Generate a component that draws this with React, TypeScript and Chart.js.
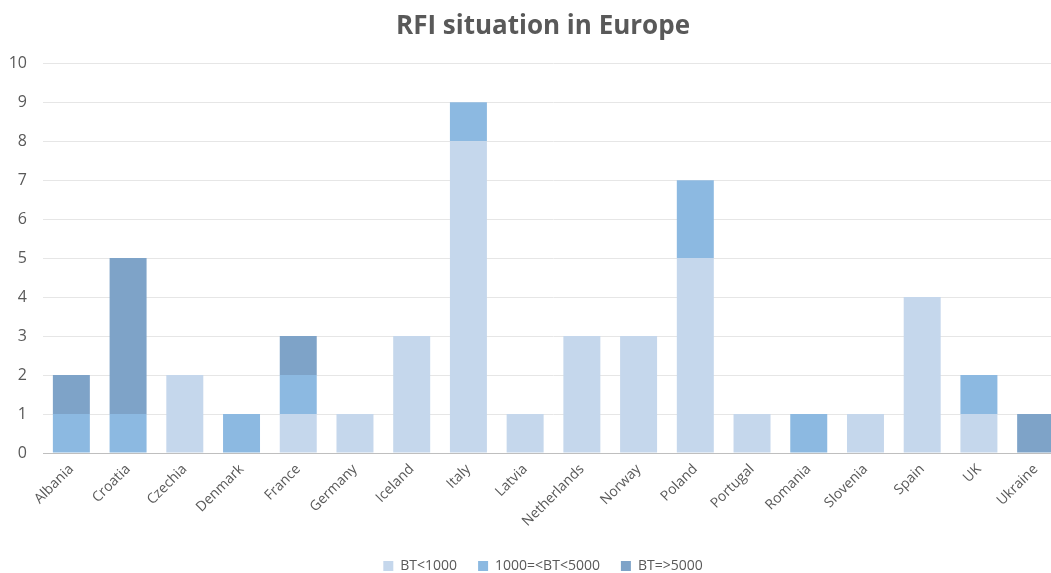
import React, { useEffect, useRef } from "react";
import { Chart, registerables } from "chart.js";

Chart.register(...registerables);

const countries = [
  "Albania", "Croatia", "Czechia", "Denmark", "France", "Germany", "Iceland", "Italy", "Latvia",
  "Netherlands", "Norway", "Poland", "Portugal", "Romania", "Slovenia", "Spain", "UK", "Ukraine",
];
const btUnder1000 = [0, 0, 2, 0, 1, 1, 3, 8, 1, 3, 3, 5, 1, 0, 1, 4, 1, 0];
const bt1000to5000 = [1, 1, 0, 1, 1, 0, 0, 1, 0, 0, 0, 2, 0, 1, 0, 0, 1, 0];
const btOver5000 = [1, 4, 0, 0, 1, 0, 0, 0, 0, 0, 0, 0, 0, 0, 0, 0, 0, 1];
const seriesNames = ["BT<1000", "1000=<BT<5000", "BT=>5000"];
const yTicks = [0, 1, 2, 3, 4, 5, 6, 7, 8, 9, 10];

const FONT = "'Open Sans', 'Noto Sans', sans-serif";
const TEXT = "#595959";

export default function App() {
  const ref = useRef<HTMLCanvasElement | null>(null);

  useEffect(() => {
    if (!ref.current) return;
    const colors = ["#c5d7ec", "#8cb9e1", "#7ea3c8"];
    const values = [btUnder1000, bt1000to5000, btOver5000];
    const chart = new Chart(ref.current, {
      type: "bar",
      data: {
        labels: countries,
        datasets: values.map((v, i) => ({
          label: seriesNames[i],
          data: v,
          backgroundColor: colors[i],
          borderWidth: 0,
          categoryPercentage: 1,
          barPercentage: 0.652,
        })),
      },
      options: {
        responsive: false,
        animation: false,
        layout: { padding: { left: 22, right: 22, top: 11, bottom: 0 } },
        plugins: {
          title: {
            display: true,
            text: "RFI situation in Europe",
            color: TEXT,
            font: { family: FONT, size: 26, weight: "bold" },
            padding: { top: 0, bottom: 21 },
          },
          legend: {
            position: "bottom",
            labels: {
              color: TEXT,
              font: { family: FONT, size: 14 },
              boxWidth: 10,
              boxHeight: 10,
              padding: 21,
            },
          },
          tooltip: { enabled: false },
        },
        scales: {
          x: {
            stacked: true,
            grid: { display: false, drawTicks: false },
            border: { color: "#bfbfbf", width: 1 },
            ticks: {
              color: TEXT,
              font: { family: FONT, size: 14 },
              minRotation: 45,
              maxRotation: 45,
              padding: 8,
              autoSkip: false,
            },
            afterFit: (axis: any) => {
              axis.height = 85;
              axis.paddingLeft = 0;
              axis.paddingRight = 0;
            },
          },
          y: {
            stacked: true,
            min: yTicks[0],
            max: yTicks[yTicks.length - 1],
            afterBuildTicks: (axis: any) => {
              axis.ticks = yTicks.map((v) => ({ value: v }));
            },
            afterFit: (axis: any) => {
              // narrow axis box; tick labels are allowed to spill into the left padding
              axis.width = 21;
              axis._computeLabelArea = () => undefined;
            },
            grid: { color: "#e6e6e6", drawTicks: false },
            border: { display: false },
            ticks: {
              color: TEXT,
              font: { family: FONT, size: 16 },
              padding: 16,
            },
          },
        },
      },
    });
    return () => chart.destroy();
  }, []);

  return (
    <div style={{ position: "fixed", left: 0, top: 0, width: 1051, height: 573, overflow: "hidden", background: "#fff" }}>
      <canvas ref={ref} width={1086} height={583} style={{ display: "block" }} />
    </div>
  );
}
